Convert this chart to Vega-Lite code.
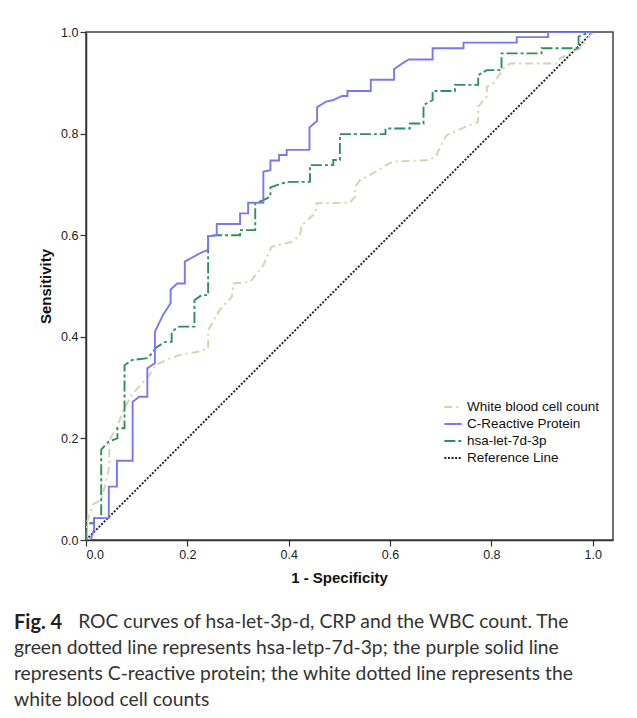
{
  "$schema": "https://vega.github.io/schema/vega-lite/v6.json",
  "autosize": {"type": "none"},
  "width": 527,
  "height": 508,
  "padding": {"left": 86, "top": 32, "right": 24, "bottom": 178},
  "background": "white",
  "config": {
    "view": {"stroke": "#444", "strokeWidth": 1.5},
    "axis": {"domainColor": "#333", "tickColor": "#333", "domainWidth": 1.5, "tickWidth": 1.2, "labelFont": "Liberation Sans", "labelFontSize": 12.5, "labelColor": "#222", "titleFont": "Liberation Sans", "titleFontSize": 15, "titleFontWeight": "bold", "titleColor": "#111", "grid": false, "tickSize": 6, "labelPadding": 2}
  },
  "title": {
    "text": "Fig. 4",
    "subtitle": ["\u200b\u00a0\u00a0\u00a0\u00a0\u00a0\u00a0\u00a0\u00a0\u00a0\u00a0\u00a0\u00a0 ROC curves of hsa-let-3p-d, CRP and the WBC count. The", "green dotted line represents hsa-letp-7d-3p; the purple solid line", "represents C-reactive protein; the white dotted line represents the", "white blood cell counts"],
    "orient": "bottom",
    "anchor": "start",
    "frame": "group",
    "dx": -72,
    "offset": 27,
    "font": "Lato",
    "fontSize": 20,
    "fontWeight": "bold",
    "color": "#222",
    "subtitleFont": "Lato",
    "subtitleFontSize": 19.3,
    "subtitleFontWeight": "normal",
    "subtitleColor": "#333",
    "subtitleLineHeight": 26,
    "subtitlePadding": -20
  },
  "data": {"values": [
    {"s": "Reference Line", "x": 0, "y": 0},
    {"s": "Reference Line", "x": 1, "y": 1},
    {"s": "White blood cell count", "x": 0, "y": 0},
    {"s": "White blood cell count", "x": 0.0, "y": 0.03},
    {"s": "White blood cell count", "x": 0.014, "y": 0.07},
    {"s": "White blood cell count", "x": 0.031, "y": 0.08},
    {"s": "White blood cell count", "x": 0.046, "y": 0.144},
    {"s": "White blood cell count", "x": 0.046, "y": 0.197},
    {"s": "White blood cell count", "x": 0.06, "y": 0.22},
    {"s": "White blood cell count", "x": 0.074, "y": 0.256},
    {"s": "White blood cell count", "x": 0.09, "y": 0.285},
    {"s": "White blood cell count", "x": 0.107, "y": 0.305},
    {"s": "White blood cell count", "x": 0.122, "y": 0.32},
    {"s": "White blood cell count", "x": 0.137, "y": 0.344},
    {"s": "White blood cell count", "x": 0.16, "y": 0.355},
    {"s": "White blood cell count", "x": 0.184, "y": 0.364},
    {"s": "White blood cell count", "x": 0.223, "y": 0.371},
    {"s": "White blood cell count", "x": 0.241, "y": 0.377},
    {"s": "White blood cell count", "x": 0.241, "y": 0.413},
    {"s": "White blood cell count", "x": 0.264, "y": 0.453},
    {"s": "White blood cell count", "x": 0.288, "y": 0.479},
    {"s": "White blood cell count", "x": 0.291, "y": 0.505},
    {"s": "White blood cell count", "x": 0.324, "y": 0.508},
    {"s": "White blood cell count", "x": 0.35, "y": 0.541},
    {"s": "White blood cell count", "x": 0.366, "y": 0.577},
    {"s": "White blood cell count", "x": 0.406, "y": 0.587},
    {"s": "White blood cell count", "x": 0.422, "y": 0.6},
    {"s": "White blood cell count", "x": 0.426, "y": 0.62},
    {"s": "White blood cell count", "x": 0.452, "y": 0.643},
    {"s": "White blood cell count", "x": 0.455, "y": 0.663},
    {"s": "White blood cell count", "x": 0.521, "y": 0.664},
    {"s": "White blood cell count", "x": 0.531, "y": 0.676},
    {"s": "White blood cell count", "x": 0.531, "y": 0.695},
    {"s": "White blood cell count", "x": 0.541, "y": 0.709},
    {"s": "White blood cell count", "x": 0.567, "y": 0.722},
    {"s": "White blood cell count", "x": 0.587, "y": 0.735},
    {"s": "White blood cell count", "x": 0.606, "y": 0.745},
    {"s": "White blood cell count", "x": 0.679, "y": 0.748},
    {"s": "White blood cell count", "x": 0.692, "y": 0.758},
    {"s": "White blood cell count", "x": 0.699, "y": 0.774},
    {"s": "White blood cell count", "x": 0.712, "y": 0.797},
    {"s": "White blood cell count", "x": 0.728, "y": 0.804},
    {"s": "White blood cell count", "x": 0.758, "y": 0.817},
    {"s": "White blood cell count", "x": 0.774, "y": 0.823},
    {"s": "White blood cell count", "x": 0.774, "y": 0.853},
    {"s": "White blood cell count", "x": 0.791, "y": 0.873},
    {"s": "White blood cell count", "x": 0.791, "y": 0.892},
    {"s": "White blood cell count", "x": 0.804, "y": 0.899},
    {"s": "White blood cell count", "x": 0.824, "y": 0.928},
    {"s": "White blood cell count", "x": 0.837, "y": 0.938},
    {"s": "White blood cell count", "x": 0.929, "y": 0.938},
    {"s": "White blood cell count", "x": 0.935, "y": 0.948},
    {"s": "White blood cell count", "x": 0.955, "y": 0.958},
    {"s": "White blood cell count", "x": 0.975, "y": 0.968},
    {"s": "White blood cell count", "x": 1, "y": 1},
    {"s": "hsa-let-7d-3p", "x": 0, "y": 0},
    {"s": "hsa-let-7d-3p", "x": 0, "y": 0.033},
    {"s": "hsa-let-7d-3p", "x": 0.016, "y": 0.033},
    {"s": "hsa-let-7d-3p", "x": 0.016, "y": 0.043},
    {"s": "hsa-let-7d-3p", "x": 0.03, "y": 0.043},
    {"s": "hsa-let-7d-3p", "x": 0.03, "y": 0.178},
    {"s": "hsa-let-7d-3p", "x": 0.045, "y": 0.194},
    {"s": "hsa-let-7d-3p", "x": 0.062, "y": 0.2},
    {"s": "hsa-let-7d-3p", "x": 0.062, "y": 0.22},
    {"s": "hsa-let-7d-3p", "x": 0.076, "y": 0.22},
    {"s": "hsa-let-7d-3p", "x": 0.076, "y": 0.344},
    {"s": "hsa-let-7d-3p", "x": 0.09, "y": 0.354},
    {"s": "hsa-let-7d-3p", "x": 0.122, "y": 0.358},
    {"s": "hsa-let-7d-3p", "x": 0.139, "y": 0.379},
    {"s": "hsa-let-7d-3p", "x": 0.156, "y": 0.39},
    {"s": "hsa-let-7d-3p", "x": 0.169, "y": 0.39},
    {"s": "hsa-let-7d-3p", "x": 0.169, "y": 0.41},
    {"s": "hsa-let-7d-3p", "x": 0.184, "y": 0.42},
    {"s": "hsa-let-7d-3p", "x": 0.214, "y": 0.42},
    {"s": "hsa-let-7d-3p", "x": 0.214, "y": 0.472},
    {"s": "hsa-let-7d-3p", "x": 0.228, "y": 0.482},
    {"s": "hsa-let-7d-3p", "x": 0.241, "y": 0.482},
    {"s": "hsa-let-7d-3p", "x": 0.241, "y": 0.598},
    {"s": "hsa-let-7d-3p", "x": 0.258, "y": 0.6},
    {"s": "hsa-let-7d-3p", "x": 0.304, "y": 0.6},
    {"s": "hsa-let-7d-3p", "x": 0.304, "y": 0.61},
    {"s": "hsa-let-7d-3p", "x": 0.334, "y": 0.61},
    {"s": "hsa-let-7d-3p", "x": 0.334, "y": 0.663},
    {"s": "hsa-let-7d-3p", "x": 0.35, "y": 0.669},
    {"s": "hsa-let-7d-3p", "x": 0.364, "y": 0.676},
    {"s": "hsa-let-7d-3p", "x": 0.364, "y": 0.694},
    {"s": "hsa-let-7d-3p", "x": 0.396, "y": 0.705},
    {"s": "hsa-let-7d-3p", "x": 0.442, "y": 0.705},
    {"s": "hsa-let-7d-3p", "x": 0.442, "y": 0.738},
    {"s": "hsa-let-7d-3p", "x": 0.488, "y": 0.738},
    {"s": "hsa-let-7d-3p", "x": 0.488, "y": 0.748},
    {"s": "hsa-let-7d-3p", "x": 0.501, "y": 0.748},
    {"s": "hsa-let-7d-3p", "x": 0.501, "y": 0.799},
    {"s": "hsa-let-7d-3p", "x": 0.591, "y": 0.799},
    {"s": "hsa-let-7d-3p", "x": 0.591, "y": 0.81},
    {"s": "hsa-let-7d-3p", "x": 0.639, "y": 0.81},
    {"s": "hsa-let-7d-3p", "x": 0.639, "y": 0.82},
    {"s": "hsa-let-7d-3p", "x": 0.666, "y": 0.82},
    {"s": "hsa-let-7d-3p", "x": 0.666, "y": 0.856},
    {"s": "hsa-let-7d-3p", "x": 0.684, "y": 0.866},
    {"s": "hsa-let-7d-3p", "x": 0.684, "y": 0.884},
    {"s": "hsa-let-7d-3p", "x": 0.728, "y": 0.884},
    {"s": "hsa-let-7d-3p", "x": 0.728, "y": 0.896},
    {"s": "hsa-let-7d-3p", "x": 0.774, "y": 0.896},
    {"s": "hsa-let-7d-3p", "x": 0.774, "y": 0.915},
    {"s": "hsa-let-7d-3p", "x": 0.791, "y": 0.925},
    {"s": "hsa-let-7d-3p", "x": 0.82, "y": 0.925},
    {"s": "hsa-let-7d-3p", "x": 0.82, "y": 0.958},
    {"s": "hsa-let-7d-3p", "x": 0.899, "y": 0.958},
    {"s": "hsa-let-7d-3p", "x": 0.899, "y": 0.968},
    {"s": "hsa-let-7d-3p", "x": 0.972, "y": 0.968},
    {"s": "hsa-let-7d-3p", "x": 0.972, "y": 0.991},
    {"s": "hsa-let-7d-3p", "x": 0.987, "y": 0.997},
    {"s": "hsa-let-7d-3p", "x": 1, "y": 1},
    {"s": "C-Reactive Protein", "x": 0, "y": 0},
    {"s": "C-Reactive Protein", "x": 0.009, "y": 0},
    {"s": "C-Reactive Protein", "x": 0.016, "y": 0.02},
    {"s": "C-Reactive Protein", "x": 0.016, "y": 0.043},
    {"s": "C-Reactive Protein", "x": 0.045, "y": 0.043},
    {"s": "C-Reactive Protein", "x": 0.045, "y": 0.105},
    {"s": "C-Reactive Protein", "x": 0.061, "y": 0.105},
    {"s": "C-Reactive Protein", "x": 0.061, "y": 0.156},
    {"s": "C-Reactive Protein", "x": 0.092, "y": 0.156},
    {"s": "C-Reactive Protein", "x": 0.092, "y": 0.272},
    {"s": "C-Reactive Protein", "x": 0.105, "y": 0.282},
    {"s": "C-Reactive Protein", "x": 0.121, "y": 0.282},
    {"s": "C-Reactive Protein", "x": 0.121, "y": 0.338},
    {"s": "C-Reactive Protein", "x": 0.136, "y": 0.348},
    {"s": "C-Reactive Protein", "x": 0.136, "y": 0.41},
    {"s": "C-Reactive Protein", "x": 0.152, "y": 0.443},
    {"s": "C-Reactive Protein", "x": 0.167, "y": 0.466},
    {"s": "C-Reactive Protein", "x": 0.167, "y": 0.493},
    {"s": "C-Reactive Protein", "x": 0.18, "y": 0.505},
    {"s": "C-Reactive Protein", "x": 0.195, "y": 0.505},
    {"s": "C-Reactive Protein", "x": 0.195, "y": 0.548},
    {"s": "C-Reactive Protein", "x": 0.213, "y": 0.558},
    {"s": "C-Reactive Protein", "x": 0.23, "y": 0.567},
    {"s": "C-Reactive Protein", "x": 0.241, "y": 0.571},
    {"s": "C-Reactive Protein", "x": 0.241, "y": 0.598},
    {"s": "C-Reactive Protein", "x": 0.258, "y": 0.6},
    {"s": "C-Reactive Protein", "x": 0.258, "y": 0.622},
    {"s": "C-Reactive Protein", "x": 0.304, "y": 0.622},
    {"s": "C-Reactive Protein", "x": 0.304, "y": 0.643},
    {"s": "C-Reactive Protein", "x": 0.32, "y": 0.643},
    {"s": "C-Reactive Protein", "x": 0.32, "y": 0.664},
    {"s": "C-Reactive Protein", "x": 0.35, "y": 0.664},
    {"s": "C-Reactive Protein", "x": 0.35, "y": 0.725},
    {"s": "C-Reactive Protein", "x": 0.364, "y": 0.728},
    {"s": "C-Reactive Protein", "x": 0.364, "y": 0.747},
    {"s": "C-Reactive Protein", "x": 0.381, "y": 0.747},
    {"s": "C-Reactive Protein", "x": 0.381, "y": 0.758},
    {"s": "C-Reactive Protein", "x": 0.396, "y": 0.758},
    {"s": "C-Reactive Protein", "x": 0.396, "y": 0.768},
    {"s": "C-Reactive Protein", "x": 0.441, "y": 0.768},
    {"s": "C-Reactive Protein", "x": 0.441, "y": 0.812},
    {"s": "C-Reactive Protein", "x": 0.456, "y": 0.825},
    {"s": "C-Reactive Protein", "x": 0.456, "y": 0.852},
    {"s": "C-Reactive Protein", "x": 0.474, "y": 0.863},
    {"s": "C-Reactive Protein", "x": 0.488, "y": 0.866},
    {"s": "C-Reactive Protein", "x": 0.505, "y": 0.874},
    {"s": "C-Reactive Protein", "x": 0.516, "y": 0.874},
    {"s": "C-Reactive Protein", "x": 0.516, "y": 0.884},
    {"s": "C-Reactive Protein", "x": 0.562, "y": 0.884},
    {"s": "C-Reactive Protein", "x": 0.562, "y": 0.906},
    {"s": "C-Reactive Protein", "x": 0.608, "y": 0.906},
    {"s": "C-Reactive Protein", "x": 0.608, "y": 0.927},
    {"s": "C-Reactive Protein", "x": 0.624, "y": 0.938},
    {"s": "C-Reactive Protein", "x": 0.637, "y": 0.946},
    {"s": "C-Reactive Protein", "x": 0.684, "y": 0.946},
    {"s": "C-Reactive Protein", "x": 0.684, "y": 0.968},
    {"s": "C-Reactive Protein", "x": 0.745, "y": 0.968},
    {"s": "C-Reactive Protein", "x": 0.745, "y": 0.979},
    {"s": "C-Reactive Protein", "x": 0.85, "y": 0.979},
    {"s": "C-Reactive Protein", "x": 0.85, "y": 0.99},
    {"s": "C-Reactive Protein", "x": 0.912, "y": 0.99},
    {"s": "C-Reactive Protein", "x": 0.912, "y": 1},
    {"s": "C-Reactive Protein", "x": 1, "y": 1}
  ]},
  "transform": [{"window": [{"op": "row_number", "as": "i"}]}],
  "mark": {"type": "line", "strokeWidth": 1.9, "clip": true},
  "encoding": {
    "x": {"field": "x", "type": "quantitative", "scale": {"domain": [0, 1.04], "nice": false},
      "axis": {"values": [0, 0.2, 0.4, 0.6, 0.8, 1.0], "format": ".1f", "title": "1 - Specificity", "titleX": 253, "titleAnchor": null, "titleAlign": "center", "titlePadding": 10}},
    "y": {"field": "y", "type": "quantitative", "scale": {"domain": [0, 1], "nice": false},
      "axis": {"values": [0, 0.2, 0.4, 0.6, 0.8, 1.0], "format": ".1f", "title": "Sensitivity", "titlePadding": 7}},
    "order": {"field": "i"},
    "color": {"field": "s", "type": "nominal",
      "scale": {"domain": ["White blood cell count", "C-Reactive Protein", "hsa-let-7d-3p", "Reference Line"], "range": ["#d6d1ae", "#7a78ee", "#2f8f5f", "#222222"]},
      "legend": {"title": null, "orient": "none", "legendX": 357, "legendY": 365, "symbolType": "stroke", "symbolSize": 300, "symbolStrokeWidth": 2, "labelFont": "Liberation Sans", "labelFontSize": 13.5, "labelColor": "#111", "rowPadding": 0, "labelOffset": 4}},
    "strokeDash": {"field": "s", "type": "nominal",
      "scale": {"domain": ["White blood cell count", "C-Reactive Protein", "hsa-let-7d-3p", "Reference Line"], "range": [[8, 4, 2, 4], [1, 0], [11, 3, 3, 3], [2, 1.6]]},
      "legend": null}
  }
}
